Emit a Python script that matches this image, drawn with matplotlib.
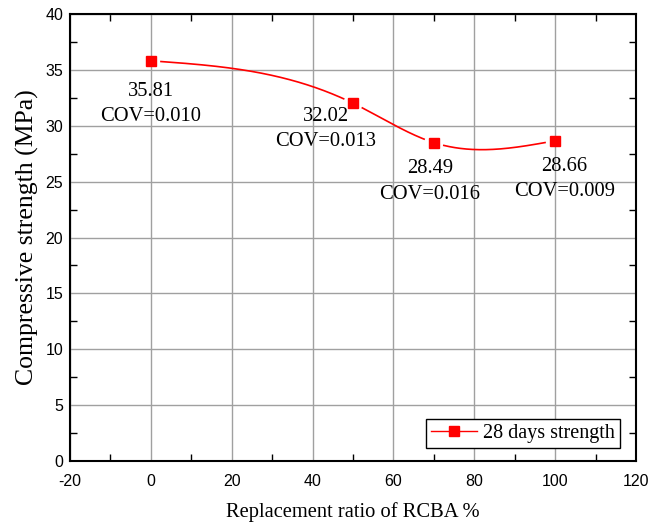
import matplotlib.pyplot as plt
import numpy as np
from matplotlib.ticker import MultipleLocator

# Прочність на стиск (28 діб) залежно від частки заміни RCBA
ratio = np.array([0, 50, 70, 100])
strength = np.array([35.81, 32.02, 28.49, 28.66])
cov = ['0.010', '0.013', '0.016', '0.009']

# зміщення центру підпису від точки (у пікселях)
label_dx = [0, -27, -4, 9]
label_dy = [-43, -26, -39, -38]


def natural_spline(x, y, xs):
    # природний кубічний сплайн без scipy
    n = len(x)
    h = np.diff(x)
    A = np.zeros((n, n))
    r = np.zeros(n)
    A[0, 0] = A[-1, -1] = 1
    for i in range(1, n - 1):
        A[i, i - 1] = h[i - 1]
        A[i, i] = 2 * (h[i - 1] + h[i])
        A[i, i + 1] = h[i]
        r[i] = 6 * ((y[i + 1] - y[i]) / h[i] - (y[i] - y[i - 1]) / h[i - 1])
    m = np.linalg.solve(A, r)
    out = np.empty_like(xs)
    for k, xv in enumerate(xs):
        i = min(np.searchsorted(x, xv, side='right') - 1, n - 2)
        i = max(i, 0)
        t = xv - x[i]
        a = y[i]
        b = (y[i + 1] - y[i]) / h[i] - h[i] * (2 * m[i] + m[i + 1]) / 6
        c = m[i] / 2
        d = (m[i + 1] - m[i]) / (6 * h[i])
        out[k] = a + b * t + c * t ** 2 + d * t ** 3
    return out


plt.rcParams['font.family'] = 'Liberation Serif'
plt.rcParams['axes.unicode_minus'] = False

fig = plt.figure(figsize=(6.48, 5.27), dpi=100)
ax = fig.add_axes([70 / 648, 1 - 461 / 527, 566 / 648, 447 / 527])

ax.set_xlim(-20, 120)
ax.set_ylim(0, 40)

xs = np.linspace(ratio[0], ratio[-1], 800)
ys = natural_spline(ratio.astype(float), strength, xs)

# розрив лінії біля маркерів
pts = ax.transData.transform(np.column_stack([xs, ys]))
mk = ax.transData.transform(np.column_stack([ratio, strength]))
ys_gap = ys.copy()
for px, py in mk:
    ys_gap[np.hypot(pts[:, 0] - px, pts[:, 1] - py) < 10] = np.nan

ax.plot(xs, ys_gap, color='red', lw=1.2, zorder=3)
ax.plot(ratio, strength, 's', color='red', ms=7, zorder=4)
# запис для легенди
ax.plot([], [], '-s', color='red', lw=1.0, ms=7, label='28 days strength')

for xv, yv, c, dx, dy in zip(ratio, strength, cov, label_dx, label_dy):
    ax.annotate(f'{yv:.2f}\nCOV={c}', (xv, yv), xytext=(dx, dy),
                textcoords='offset pixels', ha='center', va='center',
                fontsize=14.8, linespacing=1.45, zorder=5)

ax.xaxis.set_major_locator(MultipleLocator(20))
ax.xaxis.set_minor_locator(MultipleLocator(10))
ax.yaxis.set_major_locator(MultipleLocator(5))
ax.yaxis.set_minor_locator(MultipleLocator(2.5))
ax.tick_params(which='both', direction='in', top=True, right=True,
               labelfontfamily='Liberation Sans', labelsize=11.5)
ax.tick_params(which='major', length=0, pad=5)
ax.tick_params(axis='x', which='major', pad=9)
ax.tick_params(which='minor', length=5, width=1)

ax.grid(True, which='major', color='#a0a0a0', lw=1)
ax.set_axisbelow(True)
for s in ax.spines.values():
    s.set_linewidth(1.5)

ax.set_xlabel('Replacement ratio of RCBA %', fontsize=14.8, labelpad=10)
ax.set_ylabel('Compressive strength (MPa)', fontsize=18.5, labelpad=8)
ax.yaxis.set_label_coords(21 / 648 - 70 / 648, 0.5, transform=ax.transAxes)
ax.yaxis.label.set_va('center')

leg = ax.legend(loc='lower right', bbox_to_anchor=(1 - 16 / 566, 13 / 447),
                borderaxespad=0, fontsize=14.5, fancybox=False,
                edgecolor='black', framealpha=1, handlelength=2.3,
                borderpad=0.25, handletextpad=0.3)
leg.get_frame().set_linewidth(1)

fig.savefig('out.png', dpi=100)
